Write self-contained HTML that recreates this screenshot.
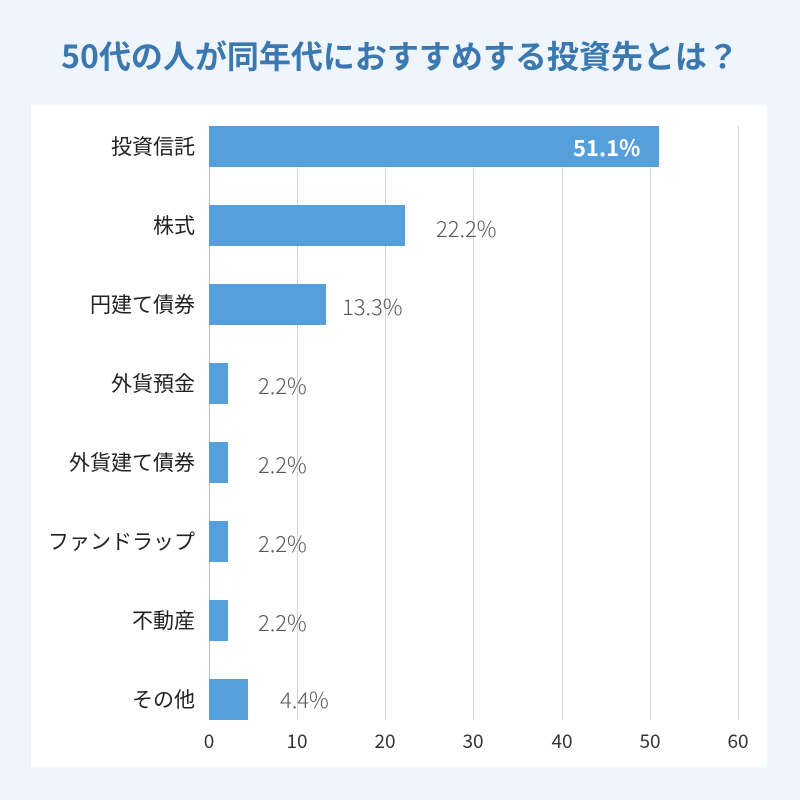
<!DOCTYPE html><html><head><meta charset="utf-8"><style>
body{margin:0;width:800px;height:800px;background:#eef5fd;font-family:"Liberation Sans","Noto Sans CJK JP",sans-serif;position:relative;overflow:hidden}
.t{position:absolute;top:33px;left:0;width:800px;text-align:center;font-size:32px;line-height:44px;font-weight:bold;color:#3b78b0;font-family:"Noto Sans CJK JP",sans-serif}
.p{position:absolute;left:31px;top:105px;width:736px;height:662px;background:#fff}
.g{position:absolute;top:126px;height:594px;width:1px;background:#d4d4d4}
.b{position:absolute;left:209px;height:41px;background:#549fdc}
.c{position:absolute;right:605px;font-size:21px;color:#222;font-family:"Noto Sans CJK JP",sans-serif;line-height:26px}
.v{position:absolute;font-size:22px;color:#595959;line-height:26px;font-family:"Noto Sans CJK JP",sans-serif;font-weight:300}
.x{position:absolute;top:727px;font-size:19px;color:#333;width:40px;text-align:center;font-family:"Noto Sans CJK JP",sans-serif}
</style></head><body>
<div class="t">50代の人が同年代におすすめする投資先とは？</div>
<div class="p"></div>
<div class="g" style="left:209px;background:#bbb"></div>
<div class="g" style="left:297px"></div><div class="g" style="left:385px"></div><div class="g" style="left:473px"></div><div class="g" style="left:562px"></div><div class="g" style="left:650px"></div><div class="g" style="left:738px"></div>
<div class="b" style="top:126px;width:450px"></div>
<div class="b" style="top:205px;width:196px"></div>
<div class="b" style="top:284px;width:117px"></div>
<div class="b" style="top:363px;width:19px"></div>
<div class="b" style="top:442px;width:19px"></div>
<div class="b" style="top:521px;width:19px"></div>
<div class="b" style="top:600px;width:19px"></div>
<div class="b" style="top:679px;width:39px"></div>
<div class="c" style="top:133px">投資信託</div>
<div class="c" style="top:212px">株式</div>
<div class="c" style="top:291px">円建て債券</div>
<div class="c" style="top:370px">外貨預金</div>
<div class="c" style="top:449px">外貨建て債券</div>
<div class="c" style="top:528px">ファンドラップ</div>
<div class="c" style="top:607px">不動産</div>
<div class="c" style="top:686px">その他</div>
<div class="v" style="top:134px;left:573px;color:#fff;font-weight:bold">51.1%</div>
<div class="v" style="top:215px;left:436px">22.2%</div>
<div class="v" style="top:293px;left:342px">13.3%</div>
<div class="v" style="top:372px;left:258px">2.2%</div>
<div class="v" style="top:451px;left:258px">2.2%</div>
<div class="v" style="top:530px;left:258px">2.2%</div>
<div class="v" style="top:609px;left:258px">2.2%</div>
<div class="v" style="top:686px;left:280px">4.4%</div>
<div class="x" style="left:189px">0</div><div class="x" style="left:277px">10</div><div class="x" style="left:365px">20</div><div class="x" style="left:453px">30</div><div class="x" style="left:542px">40</div><div class="x" style="left:630px">50</div><div class="x" style="left:718px">60</div>
</body></html>
